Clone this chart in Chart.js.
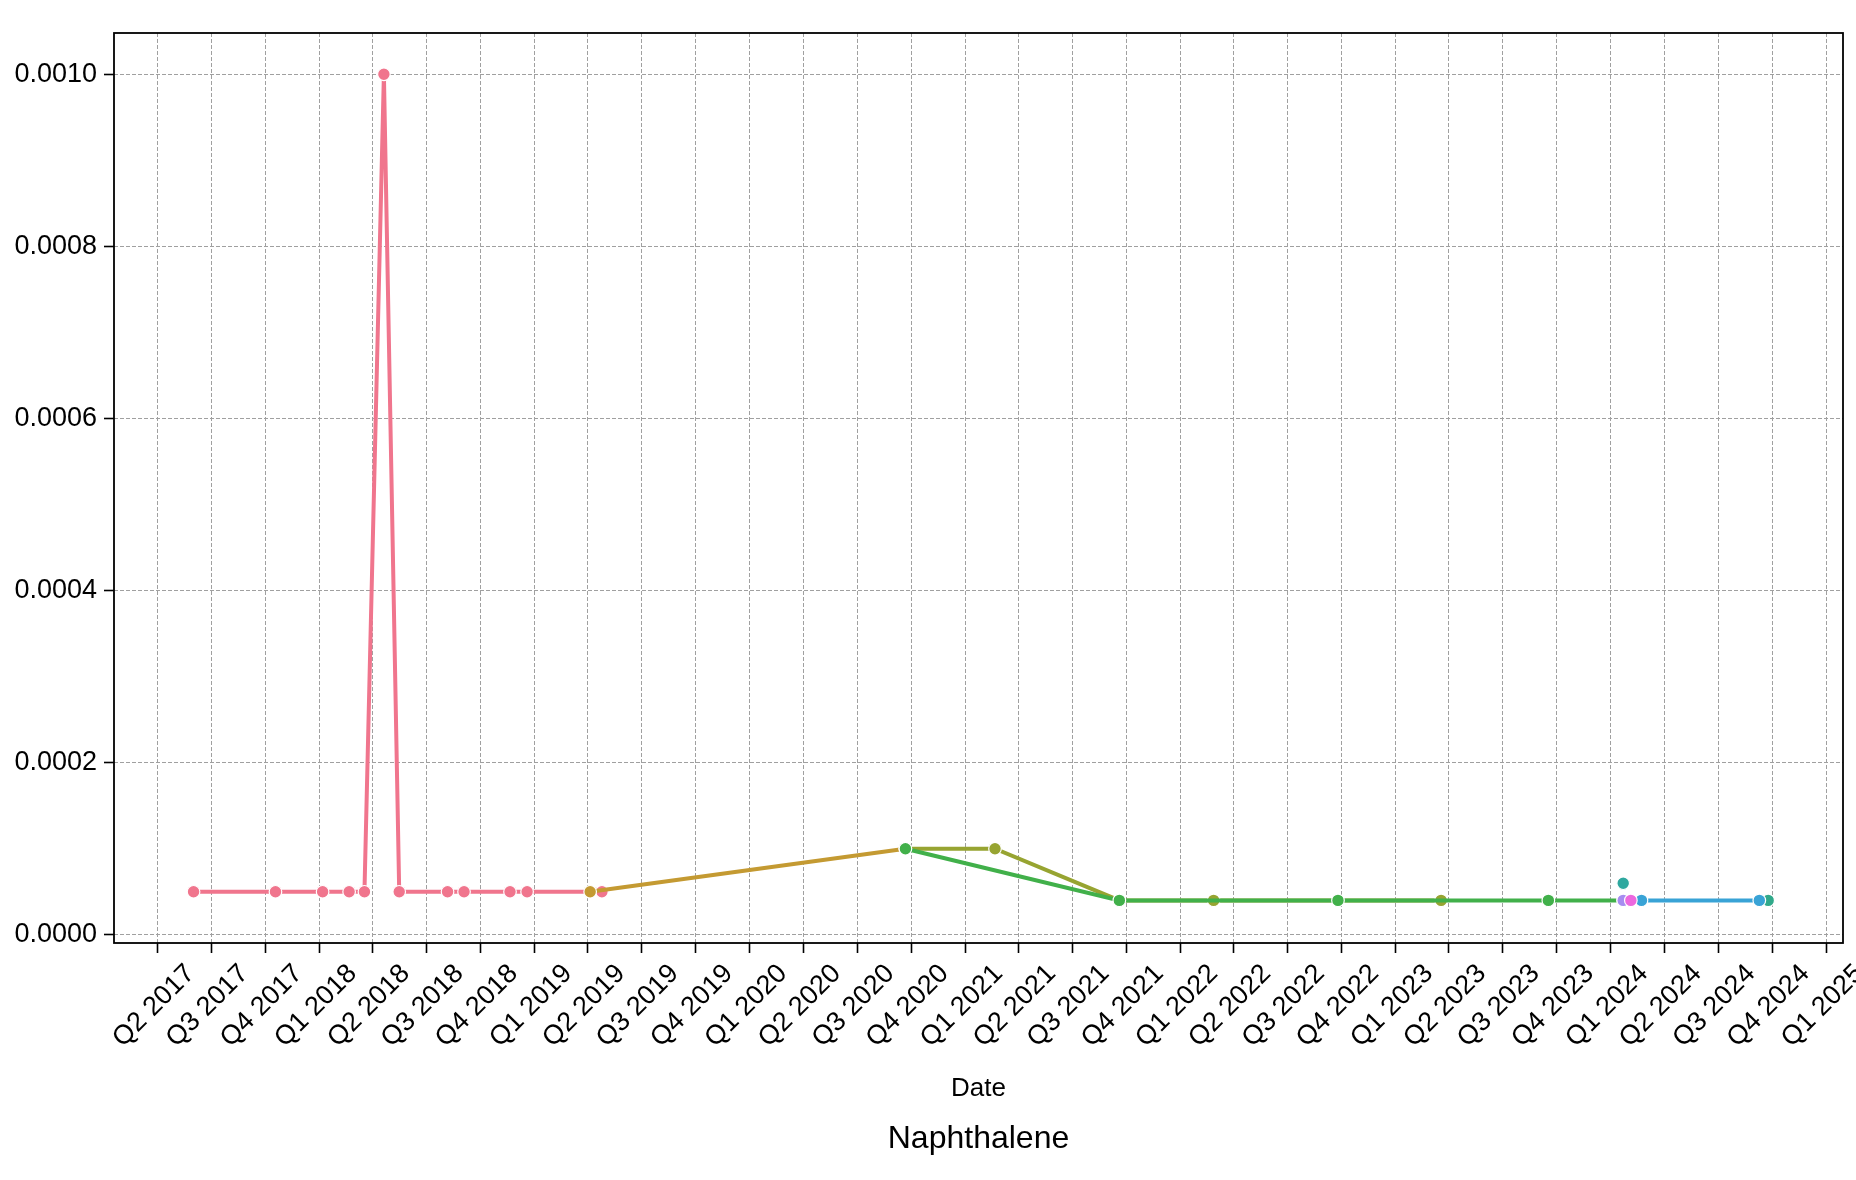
<!DOCTYPE html>
<html>
<head>
<meta charset="utf-8">
<script src="https://cdn.jsdelivr.net/npm/chart.js@4.4.1/dist/chart.umd.min.js"></script>
<style>
  html, body { margin: 0; padding: 0; background: #fff; }
</style>
</head>
<body>
<canvas id="myChart" width="1856" height="1180"></canvas>
<script>
// x axis tick labels (one per quarter start)
const quarterLabels = [
  'Q2 2017', 'Q3 2017', 'Q4 2017',
  'Q1 2018', 'Q2 2018', 'Q3 2018', 'Q4 2018',
  'Q1 2019', 'Q2 2019', 'Q3 2019', 'Q4 2019',
  'Q1 2020', 'Q2 2020', 'Q3 2020', 'Q4 2020',
  'Q1 2021', 'Q2 2021', 'Q3 2021', 'Q4 2021',
  'Q1 2022', 'Q2 2022', 'Q3 2022', 'Q4 2022',
  'Q1 2023', 'Q2 2023', 'Q3 2023', 'Q4 2023',
  'Q1 2024', 'Q2 2024', 'Q3 2024', 'Q4 2024',
  'Q1 2025'
];
// y axis tick values
const yTicks = [0, 0.0002, 0.0004, 0.0006, 0.0008, 0.0010];

// one series per colour
const pinkDates = ['2017-06-01', '2017-10-18', '2018-01-06', '2018-02-20', '2018-03-18', '2018-04-20',
                   '2018-05-16', '2018-08-06', '2018-09-03', '2018-11-20', '2018-12-19', '2019-04-25'];
const pinkValues = [0.00005, 0.00005, 0.00005, 0.00005, 0.00005, 0.001,
                    0.00005, 0.00005, 0.00005, 0.00005, 0.00005, 0.00005];

const goldDates = ['2019-04-05', '2020-09-21'];
const goldValues = [0.00005, 0.0001];

const oliveDates = ['2020-09-21', '2021-02-20', '2021-09-19', '2022-02-26', '2023-03-19'];
const oliveValues = [0.0001, 0.0001, 0.00004, 0.00004, 0.00004];

const greenDates = ['2020-09-21', '2021-09-19', '2022-09-25', '2023-09-17', '2024-01-22'];
const greenValues = [0.0001, 0.00004, 0.00004, 0.00004, 0.00004];

const seagreenDates = ['2024-09-24'];
const seagreenValues = [0.00004];

const tealDates = ['2024-01-22'];
const tealValues = [0.00006];

const blueDates = ['2024-02-22', '2024-09-09'];
const blueValues = [0.00004, 0.00004];

const purpleDates = ['2024-01-22'];
const purpleValues = [0.00004];

const magentaDates = ['2024-02-04'];
const magentaValues = [0.00004];

// axis range
const xStart = '2017-01-17';
const xEnd = '2025-01-29';
const yMin = -0.0000095;
const yMax = 0.001048;

const toDay = d => Date.parse(d + 'T00:00:00Z') / 86400000;

// quarter label -> day number of the first day of that quarter
const quarterDay = label => {
  const q = parseInt(label[1]);
  const year = label.slice(3);
  const month = String((q - 1) * 3 + 1).padStart(2, '0');
  return toDay(year + '-' + month + '-01');
};
const quarterDays = quarterLabels.map(quarterDay);

const series = (dates, values) => dates.map((d, i) => ({ x: toDay(d), y: values[i] }));

const makeSet = (dates, values, color, order) => ({
  data: series(dates, values),
  borderColor: color,
  backgroundColor: color,
  borderWidth: 4,
  pointRadius: 6.3,
  pointBackgroundColor: color,
  pointBorderColor: '#ffffff',
  pointBorderWidth: 1.2,
  tension: 0,
  order: order
});

// black box round the plot area
const frame = {
  id: 'frame',
  afterDraw(chart) {
    const { ctx, chartArea: a } = chart;
    ctx.save();
    ctx.strokeStyle = '#000';
    ctx.lineWidth = 1.8;
    ctx.strokeRect(a.left, a.top, a.right - a.left, a.bottom - a.top);
    ctx.restore();
  }
};

const font = 'Liberation Sans, Arial, sans-serif';
const ctx = document.querySelector('#myChart').getContext('2d');

new Chart(ctx, {
  type: 'line',
  data: {
    datasets: [
      makeSet(pinkDates, pinkValues, '#f0758d', 9),
      makeSet(goldDates, goldValues, '#c49a32', 8),
      makeSet(oliveDates, oliveValues, '#97a431', 7),
      makeSet(greenDates, greenValues, '#41b04a', 6),
      makeSet(seagreenDates, seagreenValues, '#30a98a', 5),
      makeSet(tealDates, tealValues, '#2ea89f', 4),
      makeSet(blueDates, blueValues, '#39a3d6', 3),
      makeSet(purpleDates, purpleValues, '#a68cf0', 2),
      makeSet(magentaDates, magentaValues, '#ec68de', 1)
    ]
  },
  options: {
    responsive: false,
    animation: false,
    devicePixelRatio: 1,
    layout: { padding: { left: 0, right: 13, top: 33, bottom: 0 } },
    plugins: {
      legend: { display: false },
      tooltip: { enabled: false },
      title: {
        display: true,
        fullSize: false,
        position: 'bottom',
        text: 'Naphthalene',
        color: '#000',
        font: { family: font, size: 32, weight: 'normal', lineHeight: 1.2 },
        padding: { top: 6, bottom: 21.8 }
      }
    },
    scales: {
      x: {
        type: 'linear',
        min: toDay(xStart),
        max: toDay(xEnd),
        afterBuildTicks: scale => {
          scale.ticks = quarterDays.map(v => ({ value: v }));
        },
        afterFit: scale => { scale.height = 170.8; },
        ticks: {
          autoSkip: false,
          maxRotation: 45,
          minRotation: 45,
          labelOffset: 33,
          padding: 5,
          color: '#000',
          font: { family: font, size: 27 },
          callback: value => quarterLabels[quarterDays.indexOf(value)]
        },
        grid: {
          color: '#a0a0a0',
          lineWidth: 1,
          tickColor: '#000',
          tickWidth: 1.6,
          tickLength: 10,
          tickBorderDash: []
        },
        border: { display: false, dash: [4, 2] },
        title: {
          display: true,
          text: 'Date',
          color: '#000',
          font: { family: font, size: 26, lineHeight: 1.2 },
          padding: { top: 0, bottom: 9.5 }
        }
      },
      y: {
        type: 'linear',
        min: yMin,
        max: yMax,
        afterBuildTicks: scale => {
          scale.ticks = yTicks.map(v => ({ value: v }));
        },
        afterFit: scale => { scale.width = 114; },
        ticks: {
          padding: 7,
          color: '#000',
          font: { family: font, size: 27 },
          callback: value => value.toFixed(4)
        },
        grid: {
          color: '#a0a0a0',
          lineWidth: 1,
          tickColor: '#000',
          tickWidth: 1.6,
          tickLength: 10,
          tickBorderDash: []
        },
        border: { display: false, dash: [4, 2] }
      }
    }
  },
  plugins: [frame]
});
</script>
</body>
</html>
